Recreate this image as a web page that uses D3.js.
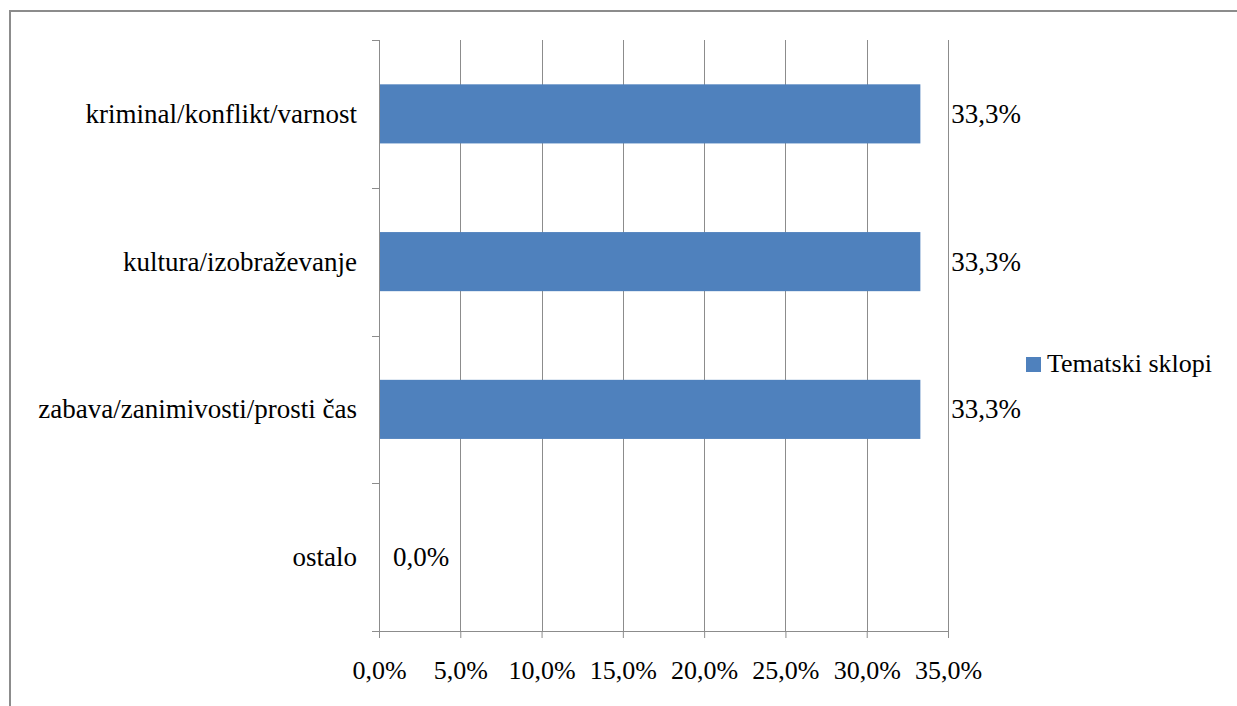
<!DOCTYPE html>
<html><head><meta charset="utf-8">
<script src="https://cdn.jsdelivr.net/npm/d3@7"></script>
<style>body{margin:0;background:#fff}svg{display:block}text{font-family:"Times New Roman","Liberation Serif","DejaVu Serif",serif;fill:#000}</style>
</head><body><svg id="c" width="1237" height="706"></svg>
<script>
const categories = ["kriminal/konflikt/varnost","kultura/izobraževanje","zabava/zanimivosti/prosti čas","ostalo"];
const values = [33.3, 33.3, 33.3, 0.0];
const xTicks = [0,5,10,15,20,25,30,35];
const seriesName = "Tematski sklopi";
const color = "#4F81BD";

(function(){
const svg = d3.select("#c");
const FF = "'Times New Roman', 'Liberation Serif', 'DejaVu Serif', serif";
// outer frame
svg.append("rect").attr("x",10).attr("y",11).attr("width",1300).attr("height",800)
  .attr("fill","none").attr("stroke","#8c8c8c").attr("stroke-width",2);

const pL=379, pR=948, pT=40, pB=631;
const x = d3.scaleLinear().domain([0,35]).range([pL,pR]);
const y = d3.scaleBand().domain(categories).range([pT,pB]).paddingInner(0.6).paddingOuter(0.3);
const fmt = v => v.toFixed(1).replace(".",",")+"%";

// gridlines
svg.append("g").selectAll("line").data(xTicks.slice(1)).join("line")
  .attr("x1",d=>Math.round(x(d))+0.5).attr("x2",d=>Math.round(x(d))+0.5).attr("y1",pT).attr("y2",pB)
  .attr("stroke","#8c8c8c").attr("stroke-width",1);

// bars
svg.append("g").selectAll("rect").data(categories).join("rect")
  .attr("x",x(0)).attr("y",d=>y(d)).attr("height",y.bandwidth())
  .attr("width",(d,i)=>x(values[i])-x(0)).attr("fill",color);

// x axis
const xa = svg.append("g").attr("transform",`translate(0,${pB})`)
  .call(d3.axisBottom(x).tickValues(xTicks).tickFormat(fmt).tickSizeInner(7).tickSizeOuter(0).tickPadding(0));
xa.attr("font-family",FF);
xa.select(".domain").attr("stroke","#8c8c8c").attr("d",`M${pL-7},0.5H${pR}`);
xa.selectAll(".tick line").attr("stroke","#8c8c8c");
xa.selectAll(".tick text").attr("font-size","26px").attr("font-family",FF).attr("fill","#000")
  .attr("y",48).attr("dy",null);

// y axis with ticks at band boundaries
const bounds = d3.range(categories.length+1).map(i=>pT+i*(pB-pT)/categories.length);
const ya = svg.append("g");
ya.append("line").attr("x1",pL+0.5).attr("x2",pL+0.5).attr("y1",pT).attr("y2",pB).attr("stroke","#8c8c8c");
ya.selectAll("line.t").data(bounds).join("line").attr("class","t")
  .attr("x1",pL-7).attr("x2",pL).attr("y1",d=>Math.round(d)+0.5).attr("y2",d=>Math.round(d)+0.5).attr("stroke","#8c8c8c");
ya.selectAll("text").data(categories).join("text")
  .attr("x",pL-22).attr("y",d=>y(d)+y.bandwidth()/2+9)
  .attr("text-anchor","end").attr("font-size","27px").attr("font-family",FF).text(d=>d);

// data labels
svg.append("g").selectAll("text").data(categories).join("text")
  .attr("x",(d,i)=>x(values[i])+ (values[i]>0?31:14)).attr("y",d=>y(d)+y.bandwidth()/2+9)
  .attr("font-size","27px").attr("font-family",FF).text((d,i)=>fmt(values[i]));

// legend
const lg = svg.append("g").attr("transform","translate(1026,357)");
lg.append("rect").attr("width",15).attr("height",15).attr("fill",color);
lg.append("text").attr("x",21).attr("y",15).attr("font-size","26px").attr("font-family",FF).text(seriesName);
})();
</script></body></html>
